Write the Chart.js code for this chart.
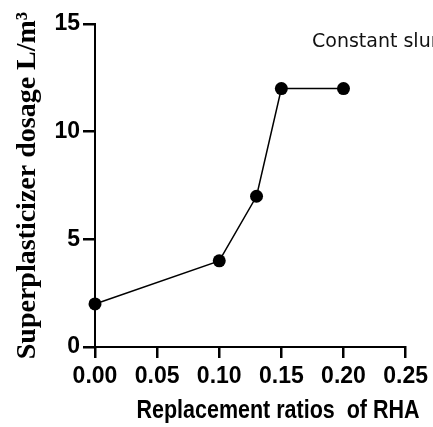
<!DOCTYPE html>
<html lang="en">
<head>
    <meta charset="UTF-8">
    <title>Superplasticizer dosage</title>
    <style>
        html, body { margin: 0; padding: 0; background: #fff; }
        #wrap { width: 433px; height: 427px; }
    </style>
</head>
<body>
    <div id="wrap">
        <canvas id="myChart" width="433" height="427"></canvas>
    </div>

    <script src="https://cdn.jsdelivr.net/npm/chart.js"></script>

    <script>
        const ratios = [0.00, 0.10, 0.13, 0.15, 0.20]   // RHA replacement ratio
        const dosage = [2, 4, 7, 12, 12]                 // superplasticizer, L/m3
        const xTicks = [0.00, 0.05, 0.10, 0.15, 0.20, 0.25]
        const yTicks = [0, 5, 10, 15]
        const seriesName = 'Constant slump'
        const xTitle = 'Replacement ratios  of RHA'
        const yTitle = 'Superplasticizer dosage L/m\u00B3'

        const tickFont = { family: 'Liberation Sans', size: 23, weight: 'bold' }

        // series name at the top right (runs off the edge) and a narrow x title
        const extraText = {
            id: 'extraText',
            afterDraw(chart) {
                const ctx = chart.ctx
                ctx.save()
                ctx.fillStyle = '#111'
                ctx.font = '19px "DejaVu Sans"'
                ctx.textBaseline = 'alphabetic'
                ctx.textAlign = 'left'
                ctx.fillText(seriesName, 312, 47)
                ctx.restore()

                ctx.save()
                ctx.fillStyle = '#000'
                ctx.font = 'bold 25px "Liberation Sans"'
                ctx.textAlign = 'center'
                ctx.textBaseline = 'alphabetic'
                ctx.translate(278, 418)
                ctx.scale(0.86, 1)
                ctx.fillText(xTitle, 0, 0)
                ctx.restore()
            }
        }

        const ctx = document.getElementById('myChart')
        new Chart(ctx, {
            type: 'line',
            data: {
                datasets: [{
                    label: seriesName,
                    data: ratios.map((r, i) => ({ x: r, y: dosage[i] })),
                    borderColor: '#000',
                    borderWidth: 1.5,
                    backgroundColor: '#000',
                    pointBackgroundColor: '#000',
                    pointBorderColor: '#000',
                    pointRadius: 6.5,
                    pointBorderWidth: 0,
                    tension: 0,
                    fill: false,
                    clip: false
                }]
            },
            options: {
                responsive: false,
                animation: false,
                layout: { padding: { left: 4, right: 26, top: 24, bottom: 4 } },
                plugins: {
                    legend: { display: false },
                    tooltip: { enabled: false }
                },
                scales: {
                    x: {
                        type: 'linear',
                        min: 0,
                        max: 0.25,
                        afterBuildTicks: s => { s.ticks = xTicks.map(v => ({ value: v })) },
                        afterFit: s => { s.height = 427 - 347 - 4 },
                        border: { color: '#000', width: 2 },
                        grid: { drawOnChartArea: false, color: '#000', lineWidth: 2.5, tickLength: 11 },
                        ticks: {
                            color: '#000',
                            font: tickFont,
                            padding: 5,
                            maxRotation: 0,
                            callback: v => v.toFixed(2)
                        }
                    },
                    y: {
                        min: 0,
                        max: 15,
                        afterBuildTicks: s => { s.ticks = yTicks.map(v => ({ value: v })) },
                        afterFit: s => { s.width = 95 - 4 },
                        border: { color: '#000', width: 2 },
                        grid: { drawOnChartArea: false, color: '#000', lineWidth: 2.5, tickLength: 12 },
                        ticks: {
                            color: '#000',
                            font: tickFont,
                            padding: 3
                        },
                        title: {
                            display: true,
                            text: yTitle,
                            color: '#000',
                            font: { family: 'Liberation Serif', size: 28, weight: 'bold' },
                            padding: { top: 7, bottom: 0 }
                        }
                    }
                }
            },
            plugins: [extraText]
        })
    </script>
</body>
</html>
